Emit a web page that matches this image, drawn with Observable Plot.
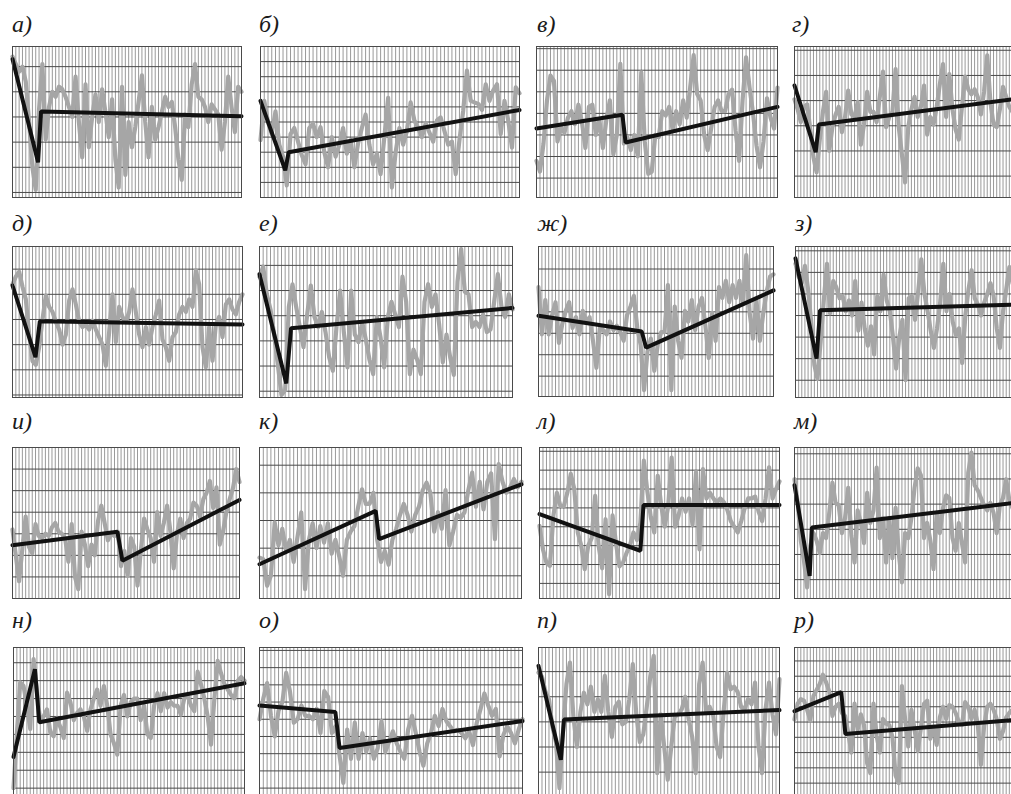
<!DOCTYPE html>
<html><head><meta charset="utf-8">
<script src="https://cdn.jsdelivr.net/npm/d3@7"></script>
<script src="https://cdn.jsdelivr.net/npm/@observablehq/plot@0.6"></script>
<style>
html,body{margin:0;padding:0;background:#fff;}
body{width:1011px;height:794px;position:relative;overflow:hidden;}
.lbl{position:absolute;font-family:"Liberation Serif","Times New Roman",Times,"DejaVu Serif",serif;font-style:italic;font-size:24px;line-height:24px;color:#1a1a1a;white-space:nowrap;}
.pn{position:absolute;}
.pn svg{max-width:none !important;display:block;}
</style></head><body>
<script>
// ---- panel labels ----
const labels = ["а)","б)","в)","г)","д)","е)","ж)","з)","и)","к)","л)","м)","н)","о)","п)","р)"];

// ---- gray series (70 yearly values per panel, in panel grid units) ----
const gray_a = [5.6,5.3,5.0,5.2,4.6,3.0,1.2,0.3,3.5,5.3, 2.3,3.6,4.2,4.0,4.4,4.3,4.0,3.6,3.2,4.8, 3.0,1.6,4.5,2.0,3.2,4.1,3.0,4.3,3.4,2.4, 3.9,1.5,0.4,4.4,0.9,3.0,2.0,2.8,3.8,4.85, 3.0,1.6,3.6,2.3,2.8,3.4,4.0,3.6,3.8,2.8, 1.5,0.7,3.3,2.8,4.5,5.3,4.0,3.9,3.6,3.0, 3.7,3.5,3.3,1.9,3.0,4.8,3.6,2.6,4.4,4.2];
const gray_b = [3.8,6.4,5.0,4.2,5.7,3.5,2.7,0.8,4.2,4.6, 3.7,2.8,2.2,4.6,4.9,4.0,4.65,3.0,2.0,4.0, 2.7,3.5,4.6,2.9,3.8,2.0,3.6,4.6,5.5,3.5, 2.2,2.9,1.55,4.0,6.6,0.66,3.0,4.6,3.5,4.4, 6.3,5.1,4.6,4.0,4.9,4.3,3.7,5.1,5.3,4.4, 3.5,3.7,1.55,3.8,5.75,8.4,6.4,6.3,6.2,5.8, 7.5,6.4,7.1,7.5,4.2,6.4,5.1,3.3,7.3,6.9];
const gray_v = [1.7,1.2,2.5,4.5,5.65,5.4,2.6,3.25,3.0,3.7, 4.0,3.4,4.3,3.5,2.3,4.2,4.3,2.9,3.6,2.3, 3.6,4.5,2.0,2.9,6.2,2.5,2.8,2.2,2.9,1.9, 5.8,2.6,1.1,1.2,2.9,2.8,4.0,3.8,4.2,3.1, 4.0,3.4,4.5,3.7,5.1,6.6,4.8,4.5,2.9,2.2, 3.2,4.2,4.5,4.0,4.0,4.8,5.0,3.1,1.7,4.5, 6.5,5.1,3.9,2.4,1.4,2.6,4.6,3.7,3.2,5.1];
const gray_g = [3.9,3.5,3.0,3.6,3.7,2.7,1.6,1.0,2.3,3.4, 4.2,1.85,2.8,3.3,3.6,2.6,3.2,4.25,3.3,3.2, 3.8,2.1,2.9,4.2,3.4,3.4,3.0,4.0,5.0,2.8, 3.2,3.4,5.1,2.8,1.7,0.6,2.8,3.5,4.0,3.2, 3.6,4.45,2.5,3.2,2.9,3.6,4.5,5.3,3.2,4.9, 3.5,2.7,2.3,3.6,4.8,4.3,4.1,4.3,4.0,3.3, 4.2,5.65,3.8,2.9,2.8,3.5,4.4,4.0,3.6,3.4];
const gray_d = [4.5,4.8,5.0,4.4,3.9,2.5,1.45,1.3,2.0,3.1, 4.05,3.6,3.4,3.0,2.7,2.1,2.5,3.85,4.3,3.7, 3.0,2.8,2.9,2.7,3.05,2.7,2.4,2.1,1.26,2.6, 4.1,2.2,3.6,3.2,3.0,3.4,4.3,3.4,2.5,2.0, 2.8,2.1,2.8,3.3,3.85,2.3,2.0,1.46,2.4,2.6, 3.3,3.6,3.4,3.9,3.6,5.05,4.5,2.0,1.2,2.8, 1.46,2.9,3.2,2.4,3.7,3.9,3.5,3.3,3.8,4.1];
const gray_e = [4.8,5.2,4.1,3.5,2.5,1.3,0.1,0.3,3.6,4.5, 3.6,2.8,2.0,3.3,4.45,3.2,2.8,3.4,2.6,1.6, 1.06,2.8,4.25,2.6,1.2,4.25,2.5,2.2,3.0,2.3, 1.5,0.93,3.2,2.4,1.2,3.2,3.8,3.3,2.8,4.8, 3.8,0.93,1.9,1.5,0.93,3.8,4.5,3.6,4.1,2.9, 1.4,2.5,1.6,0.9,4.6,5.9,4.2,4.1,2.8,3.0, 2.8,3.3,2.6,2.7,3.8,4.9,3.6,3.2,4.1,3.5];
const gray_zh = [5.1,2.9,4.5,2.9,3.8,4.4,2.5,3.4,4.0,4.4, 3.2,3.7,2.9,4.0,3.5,3.7,2.6,1.34,3.2,3.1, 2.9,3.5,3.1,3.3,3.0,2.6,3.8,4.2,4.7,3.2, 2.4,0.3,2.1,2.7,1.2,2.4,3.0,3.0,5.2,0.3, 4.2,2.6,1.8,4.0,3.5,4.5,3.1,4.2,4.6,3.3, 1.8,3.9,2.6,5.1,4.6,5.4,4.4,5.2,4.6,5.4, 4.3,6.6,3.9,2.7,4.5,2.6,3.9,4.9,5.6,5.7];
const gray_z = [6.2,5.6,5.3,6.1,5.0,3.5,1.5,0.86,2.6,4.5, 6.2,3.9,5.4,5.1,4.6,4.7,4.0,4.5,3.8,5.4, 3.1,4.4,3.2,2.4,3.3,2.0,4.7,4.0,5.7,4.5, 4.0,2.8,1.34,2.8,3.6,0.8,4.6,4.7,3.6,4.9, 6.4,4.8,4.0,3.1,2.3,3.2,4.4,6.2,4.0,4.8, 3.5,2.9,3.2,1.6,3.8,5.0,5.9,4.6,4.3,3.8, 4.4,4.8,5.3,4.7,3.2,2.3,4.0,5.0,6.05,5.3];
const gray_i = [3.2,2.0,0.8,2.3,3.8,2.4,2.1,3.45,2.9,2.8, 3.0,2.9,3.3,3.5,3.1,3.0,2.8,1.7,3.45,1.0, 0.43,3.1,2.5,1.5,2.5,2.0,3.6,4.3,3.5,2.7, 3.0,2.9,3.1,1.5,2.2,1.05,2.8,2.4,0.6,2.2, 3.7,3.2,2.8,1.7,4.0,2.9,3.5,4.3,3.1,1.4, 3.0,3.7,2.8,3.5,3.7,4.45,4.3,3.8,4.6,4.9, 5.45,4.2,5.15,2.5,3.1,4.0,4.6,5.1,6.0,5.4];
const gray_k = [1.66,1.6,0.64,1.0,2.93,2.1,2.7,1.9,2.3,1.5, 2.4,3.29,0.52,2.3,2.9,2.0,2.8,2.2,2.9,1.8, 2.3,1.7,1.0,2.3,2.6,2.8,3.5,4.13,3.6,3.6, 4.0,2.3,1.5,1.9,1.4,2.3,2.7,3.2,3.6,3.2, 2.6,3.2,3.5,4.1,4.37,4.0,2.6,3.3,2.7,4.1, 2.1,2.6,3.2,3.1,3.3,4.1,4.73,3.5,4.4,3.4, 4.4,4.7,2.33,5.04,4.4,4.0,4.2,4.5,4.2,4.4];
const gray_l = [3.85,2.6,1.9,1.73,4.4,5.6,4.9,4.9,5.6,6.6, 5.8,3.5,2.8,1.55,2.8,3.2,5.44,2.8,1.6,4.2, 0.23,4.4,2.9,1.7,1.9,2.4,2.8,3.5,3.1,4.0, 7.3,5.7,4.3,3.5,6.5,4.9,3.8,4.9,7.47,3.8, 4.4,5.3,4.6,5.3,3.9,6.7,2.6,6.85,5.3,5.6, 5.3,5.1,5.3,5.1,4.7,4.1,3.8,3.5,4.1,4.8, 5.3,5.3,5.4,4.6,4.1,5.3,6.95,5.3,5.8,6.2];
const gray_m = [4.74,3.8,2.3,1.5,0.44,2.1,2.6,2.3,1.8,2.6, 2.4,3.4,4.6,3.8,3.7,2.6,3.2,4.4,2.5,1.43, 3.5,3.0,2.2,4.2,3.0,3.5,5.2,2.4,3.2,1.43, 3.2,1.6,3.6,1.8,0.64,2.6,2.4,3.2,4.4,5.17, 4.9,2.4,3.0,2.3,1.17,3.4,2.6,3.6,4.1,4.0, 2.4,1.9,3.0,2.2,1.43,5.0,5.8,4.5,4.3,4.0, 3.7,3.5,3.8,3.4,2.6,3.7,4.0,4.74,3.9,3.6];
const gray_n = [1.0,4.0,6.9,6.7,5.6,4.3,8.2,6.4,4.7,5.0, 5.4,4.1,3.9,4.9,4.4,3.8,6.33,5.8,4.8,5.2, 5.4,5.0,4.2,5.4,6.0,6.5,5.6,6.7,5.6,4.0, 3.5,2.87,5.6,6.2,5.0,5.8,6.0,6.0,4.8,5.6, 4.0,3.8,5.6,6.3,5.3,6.3,5.5,5.8,5.6,5.6, 5.1,6.0,6.2,5.6,5.3,7.5,6.8,6.0,5.0,3.43, 6.0,8.1,7.4,6.8,6.5,6.2,6.0,7.0,7.2,7.0];
const gray_o = [5.0,6.2,7.1,5.2,4.0,5.5,6.0,7.7,6.6,4.8, 5.0,5.8,5.2,5.2,5.0,5.6,4.2,6.64,6.3,4.2, 4.6,2.9,1.3,4.4,2.7,4.8,2.7,4.2,3.1,3.9, 2.7,3.3,4.9,3.1,3.7,4.3,3.6,3.1,2.7,4.4, 5.2,4.2,3.1,2.3,3.6,4.2,5.2,4.6,5.6,4.9, 4.6,4.3,4.4,4.2,3.9,4.3,3.5,4.8,5.6,6.5, 5.8,5.2,5.6,2.85,4.1,4.6,4.2,3.6,4.4,5.0];
const gray_p = [4.96,4.8,4.2,3.9,2.8,2.2,0.36,2.6,4.5,5.36, 3.2,2.0,3.4,4.16,3.7,4.4,3.4,3.9,3.4,4.83, 3.4,2.4,3.6,3.8,2.9,3.0,3.9,5.3,3.3,2.2, 2.5,3.6,4.8,5.63,0.96,3.3,2.0,0.7,2.0,3.2, 3.3,3.5,4.0,3.1,2.4,0.96,4.5,5.36,3.4,3.6, 3.3,2.0,1.6,3.4,4.96,4.3,4.4,4.2,3.6,3.5, 3.9,3.7,4.56,2.0,0.96,3.5,4.56,3.3,2.5,4.7];
const gray_r = [5.17,6.2,6.5,6.4,5.8,5.1,6.7,7.1,7.5,8.1, 7.6,7.0,5.4,6.0,6.2,5.6,5.4,4.3,3.0,6.2, 4.5,5.5,4.8,2.3,1.66,6.2,4.1,3.0,5.2,4.9, 4.8,4.0,1.5,1.0,7.36,5.2,3.4,5.8,4.5,3.1, 4.6,6.2,6.4,3.9,4.7,3.5,5.3,6.0,5.2,6.1, 6.0,5.6,5.0,4.8,6.3,6.0,5.2,5.8,4.9,2.2, 4.7,6.0,6.2,5.8,5.2,3.9,4.4,5.3,5.6,5.8];

// ---- black piecewise trends: [year index, value] ----
const trend_a = [[0,5.5],[7.7,1.4],[8.6,3.42],[69,3.23]];
const trend_b = [[0,6.4],[6.6,1.8],[7.5,3.0],[69,5.8]];
const trend_v = [[0,3.2],[24.6,3.84],[25.5,2.55],[69,4.2]];
const trend_g = [[0,4.45],[6.7,1.8],[7.7,2.9],[69,3.9]];
const trend_d = [[0,4.45],[6.9,1.6],[8.2,3.03],[69,2.9]];
const trend_e = [[0,4.9],[7.3,0.56],[8.6,2.75],[69,3.56]];
const trend_zh = [[0,3.77],[30.3,3.03],[31.6,2.28],[69,4.95]];
const trend_z = [[0,6.45],[6.7,1.8],[7.8,4.04],[69,4.3]];
const trend_i = [[0,2.47],[31.9,3.09],[33.4,1.75],[69,4.57]];
const trend_k = [[0,1.42],[30.6,3.35],[31.5,2.33],[69,4.31]];
const trend_l = [[0,4.47],[29,2.53],[29.9,4.95],[69,4.95]];
const trend_m = [[0,4.5],[4.8,0.9],[5.5,2.82],[69,3.79]];
const trend_n = [[0,2.74],[6.4,7.64],[7.7,4.68],[69,6.85]];
const trend_o = [[0,5.8],[19.9,5.42],[21,3.33],[69,4.9]];
const trend_p = [[0,5.23],[6.4,1.49],[7.3,3.09],[69,3.47]];
const trend_r = [[0,5.71],[14.8,6.96],[16.1,4.22],[69,5.12]];

// ---- y scale domains and first horizontal grid value per panel ----
const yDomains = [[0,6],[0,10],[0,7],[0,6],[0,6],[0,6],[0,7],[0,7],[0,7],[0.18,5.64],[0,8],[0,6],[0.59,8.85],[0.57,9.17],[0.07,5.96],[0.19,9.88]];
const gridStart = [0.2,1,0.9,0.85,0.1,0.25,0.95,0.8,1,1,0.8,0.75,1,1,1,1];

const grays = [gray_a,gray_b,gray_v,gray_g,gray_d,gray_e,gray_zh,gray_z,gray_i,gray_k,gray_l,gray_m,gray_n,gray_o,gray_p,gray_r];
const trends = [trend_a,trend_b,trend_v,trend_g,trend_d,trend_e,trend_zh,trend_z,trend_i,trend_k,trend_l,trend_m,trend_n,trend_o,trend_p,trend_r];

// ---- layout: plot boxes [left, top, right, bottom] and label baselines ----
const boxes = [
  [12,46,241,197],[260,46,519,197],[536,46,777,197],[794,46,1012,197],
  [12,246,242,397],[259,246,512,397],[538,246,773,396],[795,246,1012,397],
  [12,447,239,598],[259,447,521,598],[539,447,779,598],[794,447,1012,598],
  [13,647,244,795],[259,647,522,795],[538,647,779,795],[794,647,1012,795]
];
const labelX = [12,259,537,792, 12,259,537,795, 12,259,537,794, 12,259,537,794];
const labelBase = [32,32,32,32, 231,231,231,231, 429,429,429,429, 628,628,628,628];

const M = 3;
boxes.forEach((b,i)=>{
  const [l,t,r,bt] = b;
  const w = r-l, h = bt-t;
  const [lo,hi] = yDomains[i];
  const ticks = d3.range(gridStart[i], hi-0.05, 1);
  const n = grays[i].length;
  const svg = Plot.plot({
    width: w + 2*M, height: h + 2*M, margin: M,
    x: {domain:[0,n-1], axis:null},
    y: {domain:[lo,hi], axis:null},
    marks: [
      Plot.ruleX(d3.range(n), {stroke:"#999", strokeWidth:1}),
      Plot.ruleY(ticks, {stroke:"#4a4a4a", strokeWidth:1}),
      Plot.lineY(grays[i], {stroke:"#a6a6a6", strokeWidth:4.2, strokeLinejoin:"round", curve:"linear"}),
      Plot.line(trends[i], {stroke:"#111", strokeWidth:4, strokeLinejoin:"miter"}),
      Plot.frame({stroke:"#4a4a4a", strokeWidth:1})
    ]
  });
  const div = document.createElement("div");
  div.className = "pn";
  div.style.left = (l-M)+"px";
  div.style.top = (t-M)+"px";
  div.appendChild(svg);
  document.body.appendChild(div);

  const lb = document.createElement("div");
  lb.className = "lbl";
  lb.textContent = labels[i];
  lb.style.left = labelX[i]+"px";
  lb.style.top = (labelBase[i]-20)+"px";
  document.body.appendChild(lb);
});
</script>
</body></html>
